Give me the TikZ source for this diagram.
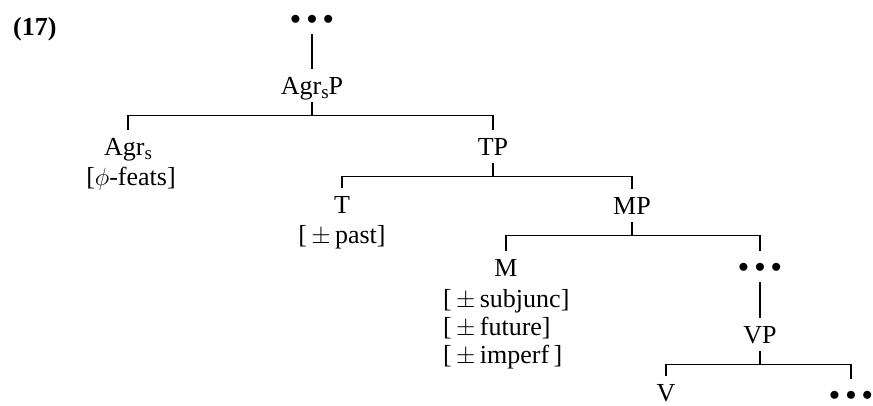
\documentclass[tikz,border=0pt]{standalone}
\usepackage{fontspec}
\setmainfont{Liberation Serif}
\newcommand{\lowsub}[1]{\raisebox{-4.5pt}{\fontsize{19}{20}\selectfont #1}}
\begin{document}
\begin{tikzpicture}[x=1pt,y=-1pt,
  every node/.style={inner sep=0pt,font=\fontsize{26}{28}\selectfont},
  cat/.style={anchor=base,text height=25pt,text depth=8pt},
  dotsnode/.style={anchor=base,text height=21pt,text depth=10pt,
    font=\fontsize{21}{24}\selectfont},
  leaf/.style={text depth=0pt},
  feat/.style={anchor=base},
  featl/.style={anchor=base west},
  branch/.style={line width=1.2pt}]
\useasboundingbox (0,0) rectangle (873,405);

\newcommand{\tdots}{$\bullet$\hspace{6pt}$\bullet$\hspace{6pt}$\bullet$}

% example number
\node[anchor=base west] (num) at (13,35) {\textbf{(17)}};

% tree labels
\node[dotsnode] (top)  at (312,24) {\tdots};
\node[cat] (agrsp) at (312,94)  {Agr\lowsub{s}P};
\node[cat] (agrs)  at (128,155) {Agr\lowsub{s}};
\node[feat] (agrsf) at (131,185) {[$\phi$-feats]};
\node[cat] (tp)    at (493,155) {TP};
\node[cat] (t)     at (342,213) {T};
\node[feat] (tf)   at (342,243) {[\,$\pm$\,past]};
\node[cat] (mp)    at (632,214) {MP};
\node[cat] (m)     at (506,276) {M};
\node[featl] (mf1) at (443,307) {[\,$\pm$\,subjunc]};
\node[featl] (mf2) at (443,335) {[\,$\pm$\,future]};
\node[featl] (mf3) at (443,363) {[\,$\pm$\,imperf\,]};
\node[dotsnode] (md)  at (760,272) {\tdots};
\node[cat] (vp)    at (760,343) {VP};
\node[cat,leaf] (v)     at (666,401) {V};
\node[dotsnode,leaf] (vd)  at (851,400) {\tdots};

% branches
\draw[branch] (top.south) -- (agrsp.north);
\draw[branch] (agrsp.south) -- ++(0,13) coordinate (b1);
\draw[branch] (agrs.north) |- (b1) -| (tp.north);
\draw[branch] (tp.south) -- ++(0,13) coordinate (b2);
\draw[branch] (t.north) |- (b2) -| (mp.north);
\draw[branch] (mp.south) -- ++(0,13) coordinate (b3);
\draw[branch] (m.north) |- (b3) -| (md.north);
\draw[branch] (md.south) -- (vp.north);
\draw[branch] (vp.south) -- ++(0,13) coordinate (b4);
\draw[branch] (v.north) |- (b4) -| (vd.north);
\end{tikzpicture}
\end{document}
